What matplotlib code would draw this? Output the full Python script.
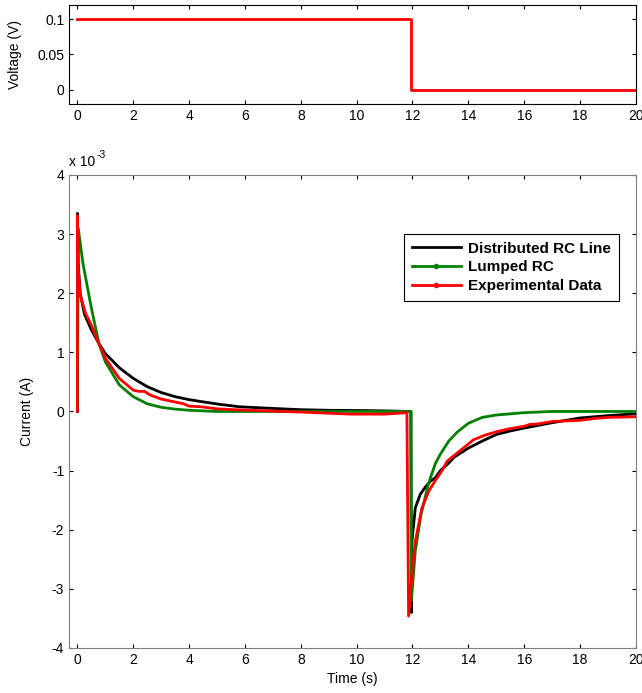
import matplotlib
matplotlib.use('Agg')
import matplotlib.pyplot as plt
from matplotlib.lines import Line2D

plt.rcParams['font.family'] = ['Liberation Sans', 'DejaVu Sans']
plt.rcParams['font.size'] = 10
plt.rcParams['axes.unicode_minus'] = False

# applied voltage step
t_volt = [0, 11.95, 11.95, 20]
volt = [0.1, 0.1, 0, 0]

# current, in units of 1e-3 A
t_dist = [0, 0, 0.03, 0.1, 0.25, 0.5, 0.77, 1.0, 1.5, 2.0, 2.5, 3.0, 3.5, 4.0, 4.4,
          5.1, 5.8, 6.8, 8.0, 9.0, 10.3, 11.0, 11.94, 11.96, 11.98, 12.1, 12.28,
          12.46, 12.64, 12.82, 13.0, 13.28, 13.5, 14.0, 14.5, 15.0, 15.5, 16.0,
          17.0, 18.0, 19.0, 20.0]
i_dist = [0, 3.35, 2.5, 2.0, 1.65, 1.38, 1.15, 0.98, 0.74, 0.56, 0.42, 0.32, 0.25,
          0.2, 0.17, 0.12, 0.08, 0.056, 0.03, 0.02, 0.015, 0.01, 0.0, -3.40, -2.2,
          -1.63, -1.40, -1.28, -1.18, -1.12, -1.0, -0.88, -0.77, -0.62, -0.5,
          -0.39, -0.33, -0.28, -0.19, -0.11, -0.07, -0.04]

t_lump = [0, 0.03, 0.2, 0.5, 0.77, 1.0, 1.5, 2.0, 2.5, 3.0, 3.5, 4.0, 5.0, 11.95,
          11.96, 12.1, 12.3, 12.58, 12.82, 13.0, 13.3, 13.6, 14.0, 14.5, 15.0,
          16.0, 17.0, 20.0]
i_lump = [0, 3.1, 2.5, 1.75, 1.15, 0.84, 0.45, 0.25, 0.13, 0.07, 0.04, 0.02, 0.0,
          0.0, -3.2, -2.36, -1.75, -1.21, -0.88, -0.72, -0.5, -0.35, -0.2, -0.1,
          -0.06, -0.02, 0.0, 0.0]

t_exp = [0, 0, 0.03, 0.1, 0.3, 0.5, 0.77, 1.0, 1.5, 2.0, 2.2, 2.4, 2.6, 3.0, 3.5,
         3.8, 4.0, 4.4, 5.0, 5.6, 6.8, 8.0, 9.0, 9.8, 11.0, 11.8, 11.86, 11.98,
         12.1, 12.34, 12.58, 12.8, 13.06, 13.24, 13.53, 14.0, 14.18, 14.6, 15.03,
         15.5, 16.0, 16.2, 16.5, 17.0, 17.5, 18.0, 18.5, 19.0, 20.0]
i_exp = [0, 3.32, 2.4, 1.97, 1.65, 1.46, 1.15, 0.9, 0.56, 0.36, 0.34, 0.34, 0.28,
         0.21, 0.16, 0.13, 0.09, 0.08, 0.045, 0.03, 0.01, -0.01, -0.03, -0.045,
         -0.045, -0.02, -3.46, -2.76, -2.2, -1.63, -1.35, -1.18, -1.0, -0.84,
         -0.73, -0.55, -0.48, -0.4, -0.34, -0.29, -0.25, -0.22, -0.21, -0.17,
         -0.16, -0.15, -0.12, -0.1, -0.09]

labels = ['Distributed RC Line', 'Lumped RC', 'Experimental Data']
green = '#008000'

fig = plt.figure(figsize=(6.42, 6.93), dpi=100)

# top: voltage
ax1 = fig.add_axes([0.1075, 0.85, 0.883, 0.1428])
ax1.plot(t_volt, volt, color='red', lw=2)
ax1.set_xlim(-0.3, 20)
ax1.set_ylim(-0.02, 0.12)
ax1.set_xticks(range(0, 21, 2))
ax1.set_yticks([0, 0.05, 0.1])
ax1.set_yticklabels(['0', '0.05', '0.1'])
ax1.set_ylabel('Voltage (V)', labelpad=11)
ax1.tick_params(direction='in', length=3, top=True, right=True, labelsize=10)

# bottom: current
ax2 = fig.add_axes([0.1075, 0.065, 0.883, 0.6825])
ax2.plot(t_dist, i_dist, color='black', lw=2)
ax2.plot(t_lump, i_lump, color=green, lw=2)
ax2.plot(t_exp, i_exp, color='red', lw=2)
ax2.set_xlim(-0.3, 20)
ax2.set_ylim(-4, 4)
ax2.set_xticks(range(0, 21, 2))
ax2.set_yticks(range(-4, 5))
ax2.set_xlabel('Time (s)')
ax2.set_ylabel('Current (A)', labelpad=13)
ax2.tick_params(direction='in', length=3, top=True, right=True, labelsize=10)
for sp in ax2.spines.values():
    sp.set_color('0.5')
ax2.text(0.0, 1.012, 'x 10', transform=ax2.transAxes, ha='left', va='bottom',
         fontsize=10)
ax2.annotate('-3', xy=(0.0, 1.012), xycoords='axes fraction', xytext=(20, 7),
             textcoords='offset points', ha='left', va='bottom', fontsize=7.5)

handles = [Line2D([], [], color='black', lw=2),
           Line2D([], [], color=green, lw=2, marker='.', markersize=6),
           Line2D([], [], color='red', lw=2, marker='.', markersize=6)]
leg = ax2.legend(handles, labels, loc='upper right', bbox_to_anchor=(0.970, 0.875),
                 borderaxespad=0, fancybox=False, edgecolor='black', framealpha=1,
                 handlelength=3.2, prop={'weight': 'bold', 'size': 11},
                 labelspacing=0.3, handletextpad=0.5, borderpad=0.5)
leg.get_frame().set_linewidth(0.8)

fig.savefig('out.png', dpi=100)
